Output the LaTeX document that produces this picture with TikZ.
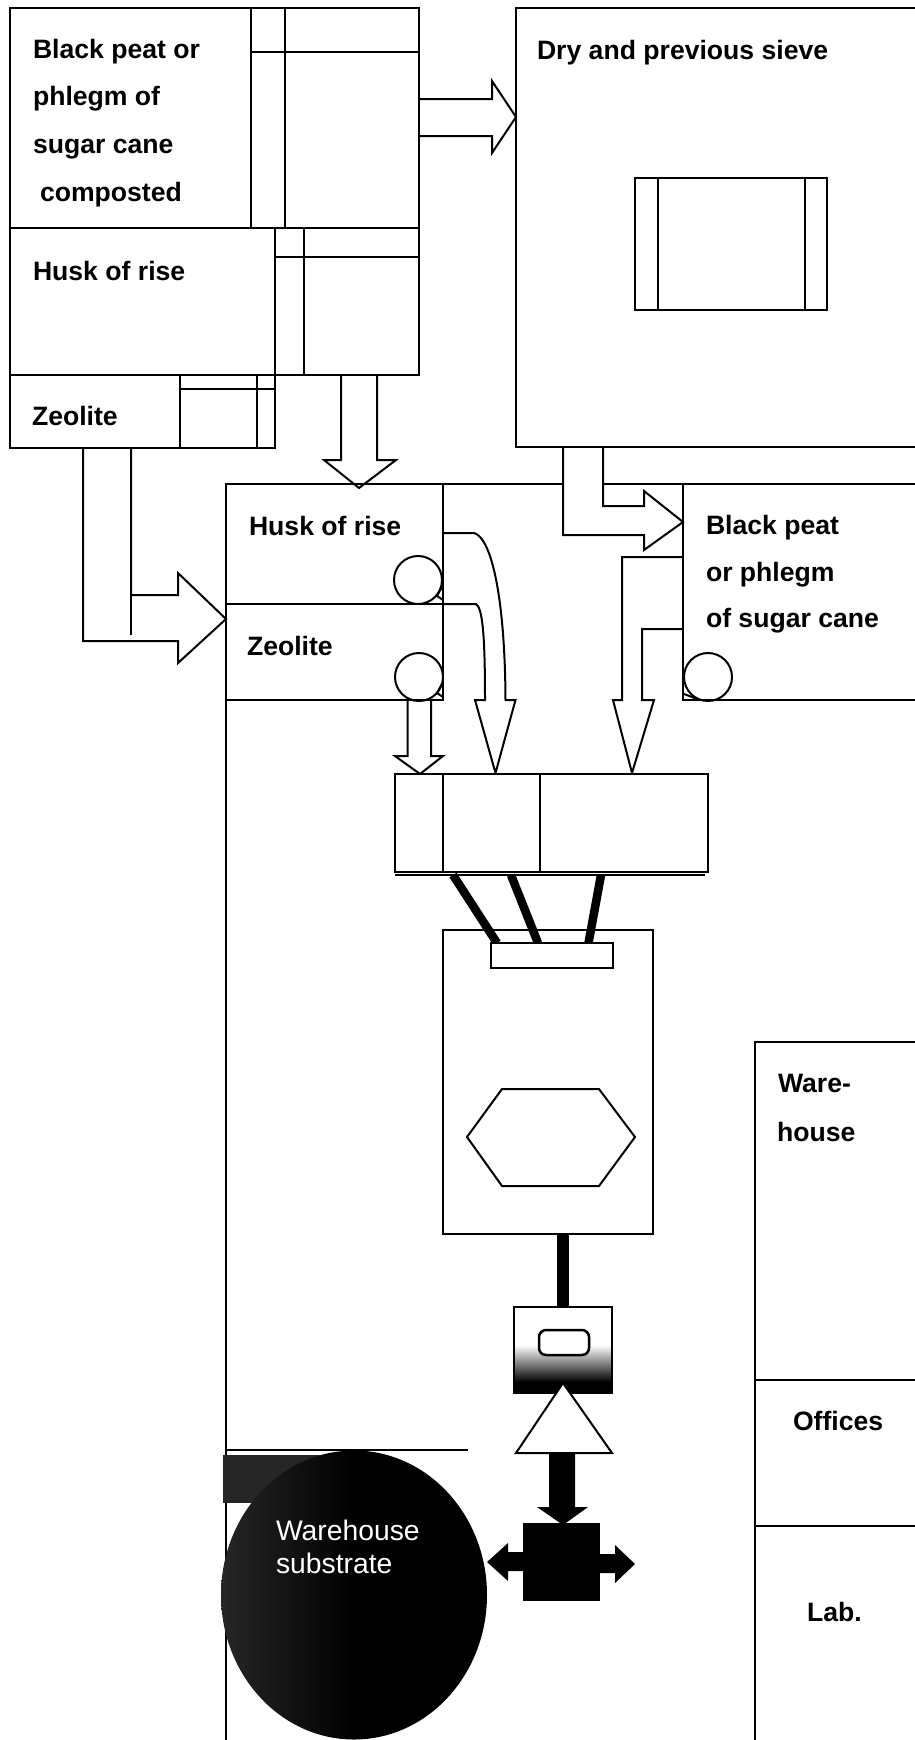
\documentclass[tikz,border=0pt]{standalone}
\usepackage{fontspec}
\setmainfont{Liberation Sans}
\usetikzlibrary{shapes.geometric}

\begin{document}
\begin{tikzpicture}[x=1pt,y=-1pt,line width=2pt,line join=miter]
    \tikzset{
        bin/.style={draw,anchor=north west,inner sep=0pt,outer sep=0pt},
        binlabel/.style={anchor=base west,inner sep=0pt,
            font=\bfseries\fontsize{26.6}{30}\selectfont},
        silolabel/.style={anchor=base west,inner sep=0pt,text=white,
            font=\fontsize{28.3}{30}\selectfont},
        drum/.style={draw,circle,minimum size=48,inner sep=0pt},
        blockarrow/.style={draw,fill=white},
        feedline/.style={line width=8.5pt},
        solidarrow/.style={fill=black}
    }
    \useasboundingbox (0,0) rectangle (915,1740);
    \clip (0,0) rectangle (915,1740);

    % plant outline
    \draw (226,1760) -- (226,484) -- (930,484);

    % block arrows
    \draw[blockarrow] (419,99) -- (492,99) -- (492,81) -- (516,117)
        -- (492,153) -- (492,136) -- (419,136);
    \draw[blockarrow] (341,375) -- (341,460) -- (324,460) -- (359,488)
        -- (396,460) -- (377,460) -- (377,375);
    \draw[blockarrow] (83,448) -- (83,641) -- (178,641) -- (178,663)
        -- (226,619) -- (178,573) -- (178,595) -- (131,595) -- (131,448);
    \draw[line width=1.5pt] (131,595) -- (131,635);
    \draw[blockarrow] (563,447) -- (563,535) -- (644,535) -- (644,550)
        -- (683,522) -- (644,491) -- (644,506) -- (603,506) -- (603,447);
    \draw[blockarrow] (443,533) -- (474,533)
        .. controls (492,538) and (505,600) .. (505.5,700)
        -- (515.5,700) -- (495.5,773) -- (475,700) -- (485,700)
        .. controls (485,640) and (483,608) .. (476,604) -- (443,604);
    \draw[blockarrow] (683,557) -- (622,557) -- (622,700) -- (613,700)
        -- (632,773) -- (654,700) -- (642,700) -- (642,629) -- (683,629);
    \draw[blockarrow] (407.5,700) -- (407.5,756) -- (395,756) -- (420,774)
        -- (443,756) -- (431,756) -- (431,700);

    % storage bins
    \node[bin,minimum width=409,minimum height=220] (peatbin) at (10,8) {};
    \node[bin,minimum width=409,minimum height=147] (huskbin) at (10,228) {};
    \node[bin,minimum width=265,minimum height=73] (zeolitebin) at (10,375) {};
    \draw (251,8) -- (251,228);
    \draw (285,8) -- (285,228);
    \draw (251,52) -- (419,52);
    \draw (275,228) -- (275,375);
    \draw (304,228) -- (304,375);
    \draw (275,257) -- (419,257);
    \draw (180,375) -- (180,448);
    \draw (257,375) -- (257,448);
    \draw (180,389) -- (275,389);

    \node[binlabel] (peatA) at (32,58) {Black peat or};
    \node[binlabel] (peatB) at (32,105) {phlegm of};
    \node[binlabel] (peatC) at (32,153) {sugar cane};
    \node[binlabel] (peatD) at (39,201) {composted};
    \node[binlabel] (husklabel) at (32,280) {Husk of rise};
    \node[binlabel] (zeolitelabel) at (31,425) {Zeolite};

    % sieve
    \node[bin,minimum width=420,minimum height=439] (sieve) at (516,8) {};
    \node[bin,minimum width=192,minimum height=132] (screen) at (635,178) {};
    \draw (658,178) -- (658,310);
    \draw (805,178) -- (805,310);
    \node[binlabel] (sievelabel) at (536,59) {Dry and previous sieve};

    % hoppers
    \node[bin,minimum width=217,minimum height=120] (huskhop) at (226,484) {};
    \node[bin,minimum width=217,minimum height=96] (zeolitehop) at (226,604) {};
    \node[bin,minimum width=240,minimum height=216] (peathop) at (683,484) {};
    \node[binlabel] (huskhoplabel) at (248,535) {Husk of rise};
    \node[binlabel] (zeolitehoplabel) at (246,655) {Zeolite};
    \node[binlabel] (peathopA) at (705,534) {Black peat};
    \node[binlabel] (peathopB) at (705,581) {or phlegm};
    \node[binlabel] (peathopC) at (705,627) {of sugar cane};
    \node[drum] (huskdrum) at (418,580) {};
    \node[drum] (zeolitedrum) at (419,677) {};
    \node[drum] (peatdrum) at (708,677) {};
    \draw (443,585) -- (437,596) -- (443,600);
    \draw (443,682) -- (437,693) -- (443,697);
    \draw (684,694) -- (692,697) -- (698,700);

    % weighing hopper
    \draw (395,875) -- (705,875);
    \node[bin,fill=white,minimum width=313,minimum height=98] (scale) at (395,774) {};
    \draw (443,774) -- (443,872);
    \draw (540,774) -- (540,872);

    % mixer
    \coordinate (outA) at (453,875);
    \coordinate (outB) at (511,875);
    \coordinate (outC) at (601,875);
    \coordinate (inA) at (497,943);
    \coordinate (inB) at (538,943);
    \coordinate (inC) at (588.5,943);
    \node[bin,minimum width=210,minimum height=304] (mixer) at (443,930) {};
    \draw[feedline] (outA) -- (inA);
    \draw[feedline] (outB) -- (inB);
    \draw[feedline] (outC) -- (inC);
    \node[bin,fill=white,minimum width=122,minimum height=25] (inlet) at (491,943) {};
    \draw (467,1137) -- (502,1089) -- (599,1089) -- (635,1137) -- (599,1186)
        -- (502,1186) -- cycle;

    % packing
    \node[bin,minimum width=98,minimum height=86] (feeder) at (514,1307) {};
    \draw[line width=12pt] (feeder.north |- mixer.south) -- (feeder.north);
    \shade[top color=white,bottom color=black] (514,1345) rectangle (612,1382);
    \fill (514,1382) rectangle (612,1393);
    \node[bin,minimum width=98,minimum height=86] (feederframe) at (514,1307) {};
    \node[bin,fill=white,line width=2.5pt,rounded corners=7pt,minimum width=50,
        minimum height=25] (valve) at (539,1330) {};
    \draw[fill=white] (563,1383) -- (516,1453) -- (612,1453) -- cycle;
    \fill[solidarrow] (549,1453) -- (549,1507) -- (537,1507) -- (563,1525)
        -- (588,1507) -- (575,1507) -- (575,1453) -- cycle;
    \node[bin,fill=black,minimum width=75,minimum height=76] (press) at (524,1524) {};
    \fill[solidarrow] (524,1552) -- (508,1552) -- (508,1543) -- (487,1562)
        -- (508,1581) -- (508,1571) -- (524,1571) -- cycle;
    \fill[solidarrow] (599,1554) -- (615,1554) -- (615,1545) -- (635,1564)
        -- (615,1583) -- (615,1573) -- (599,1573) -- cycle;

    % substrate warehouse
    \draw[line width=1.2pt] (226,1450) -- (468,1450);
    \fill[black!85] (223,1455) rectangle (354,1503);
    \node[draw=none,ellipse,inner sep=0pt,minimum width=266,minimum height=289,
        left color=black!85,right color=black,middle color=black] (silo) at (354,1595) {};
    \node[silolabel] (siloA) at (275,1540) {Warehouse};
    \node[silolabel] (siloB) at (275,1573) {substrate};

    % buildings
    \node[bin,minimum width=180,minimum height=338] (warehouse) at (755,1041.5) {};
    \node[bin,minimum width=180,minimum height=146.5] (offices) at (755,1379.5) {};
    \node[bin,minimum width=180,minimum height=240] (lab) at (755,1526) {};
    \node[binlabel] (wareA) at (777,1092) {Ware-};
    \node[binlabel] (wareB) at (776,1141) {house};
    \node[binlabel] (officelabel) at (792,1430) {Offices};
    \node[binlabel] (lablabel) at (806,1621) {Lab.};
\end{tikzpicture}
\end{document}
